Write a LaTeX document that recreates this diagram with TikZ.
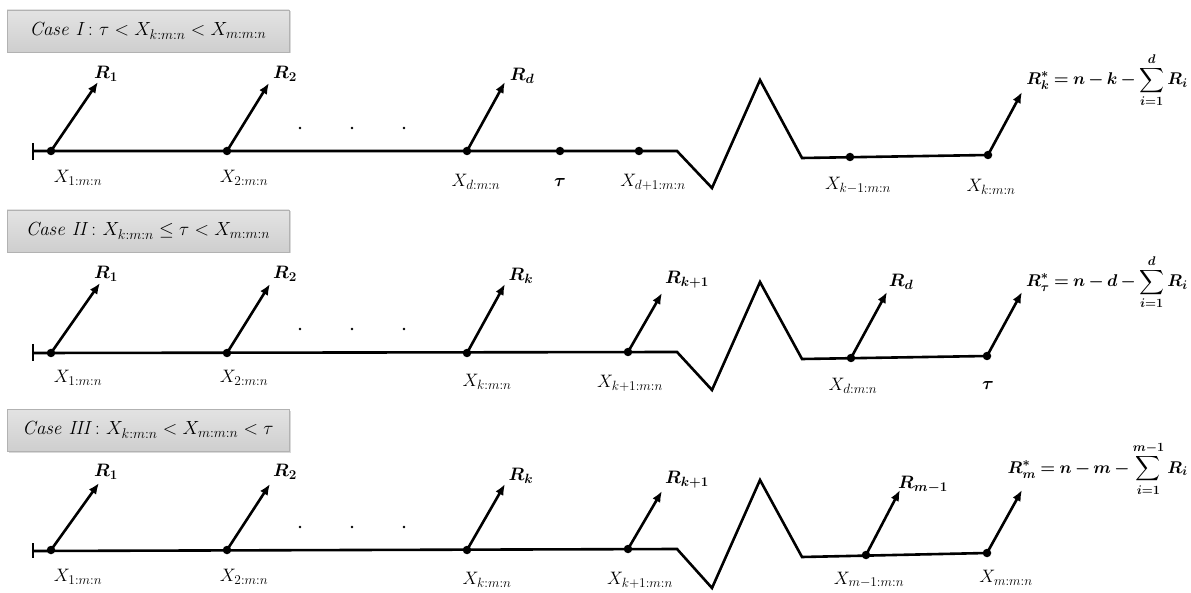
\RequirePackage{fix-cm}
\documentclass[tikz,border=0pt]{standalone}
\usepackage{amsmath}
\usetikzlibrary{arrows.meta,shadows}

% larger script sizes for the label fonts
\DeclareMathSizes{17}{17}{12.6}{9.5}
\DeclareMathSizes{18}{18}{13.4}{10}
\DeclareMathSizes{19}{19}{14}{10.5}

\tikzset{
  axisline/.style={line width=2.6pt, line join=miter},
  tickmark/.style={line width=2.4pt},
  dot/.style={circle, fill=black, inner sep=0pt, minimum size=8.5pt},
  rarrow/.style={line width=2.6pt, -{Latex[length=11pt,width=9pt]}},
  caselabel/.style={draw=gray!60, top color=gray!22, bottom color=gray!38,
    minimum width=282pt, minimum height=42pt, inner sep=0pt,
    font=\fontsize{19}{22}\selectfont,
    drop shadow={opacity=0.3, shadow xshift=1.5pt, shadow yshift=-1.5pt}},
  xlab/.style={font=\fontsize{18}{20}\selectfont, inner sep=0pt},
  rlab/.style={font=\fontsize{18}{20}\selectfont\boldmath, inner sep=0pt},
  formula/.style={font=\fontsize{17}{19}\selectfont\boldmath, inner sep=0pt, anchor=east},
  gapdot/.style={circle, fill=black, inner sep=0pt, minimum size=2.8pt},
}
\newcommand{\tightops}{\thickmuskip=4mu plus 2mu\medmuskip=3mu plus 1mu}

\begin{document}
\begin{tikzpicture}[x=1pt, y=-1pt]
\useasboundingbox (0,0) rectangle (1191,593);

% ---------------- Case I ----------------
\node[caselabel] (case1) at (148,31) {$\mathit{Case\ I}\colon \tau < X_{k:m:n} < X_{m:m:n}$};
\coordinate (s1) at (33,151);
\draw[tickmark] (33,143) -- (33,160);
\node[dot] (a1) at (51,151) {};
\node[dot] (a2) at (227,151) {};
\node[dot] (ad) at (467,151) {};
\node[dot] (at) at (560,151) {};
\node[dot] (ad1) at (639,151) {};
\node[dot] (akm) at (850,157) {};
\node[dot] (ak) at (988,155) {};
\draw[axisline] (s1) -- (677,151) -- (712,188) -- (760,80) -- (802,158) -- (ak.center);
\coordinate (ta1) at (98,82);
\coordinate (ta2) at (269,83);
\coordinate (tad) at (505,82);
\coordinate (tak) at (1022,92);
\draw[rarrow] (a1.center) -- (ta1);
\draw[rarrow] (a2.center) -- (ta2);
\draw[rarrow] (ad.center) -- (tad);
\draw[rarrow] (ak.center) -- (tak);
\node[rlab] (ra1) at (106,74) {$R_1$};
\node[rlab] (ra2) at (285,74) {$R_2$};
\node[rlab] (rad) at (522,76) {$R_d$};
\node[formula] (fa) at (1188,80) {$\tightops\displaystyle R_k^{*} = n - k - \sum_{i=1}^{d} R_i$};
\node[gapdot] (ga1) at (300,128) {};
\node[gapdot] (ga2) at (352,128) {};
\node[gapdot] (ga3) at (404,128) {};
\node[xlab] (xa1) at (78,178) {$X_{1:m:n}$};
\node[xlab] (xa2) at (244,178) {$X_{2:m:n}$};
\node[xlab] (xad) at (476,182) {$X_{d:m:n}$};
\node[rlab] (xat) at (560,183) {$\tau$};
\node[xlab] (xad1) at (653,182) {$X_{d+1:m:n}$};
\node[xlab] (xakm) at (858,185) {$X_{k-1:m:n}$};
\node[xlab] (xak) at (991,187) {$X_{k:m:n}$};

% ---------------- Case II ----------------
\node[caselabel] (case2) at (148,231) {$\mathit{Case\ II}\colon X_{k:m:n} \le \tau < X_{m:m:n}$};
\coordinate (s2) at (33,353);
\draw[tickmark] (33,344) -- (33,361);
\node[dot] (b1) at (51,353) {};
\node[dot] (b2) at (227,353) {};
\node[dot] (bk) at (467,353) {};
\node[dot] (bk1) at (628,352) {};
\node[dot] (bd) at (851,358) {};
\node[dot] (bt) at (987,356) {};
\draw[axisline] (s2) -- (677,352) -- (712,390) -- (760,282) -- (802,359) -- (bt.center);
\coordinate (tb1) at (100,283);
\coordinate (tb2) at (270,284);
\coordinate (tbk) at (505,284);
\coordinate (tbk1) at (662,293);
\coordinate (tbd) at (887,292);
\coordinate (tbt) at (1022,292);
\draw[rarrow] (b1.center) -- (tb1);
\draw[rarrow] (b2.center) -- (tb2);
\draw[rarrow] (bk.center) -- (tbk);
\draw[rarrow] (bk1.center) -- (tbk1);
\draw[rarrow] (bd.center) -- (tbd);
\draw[rarrow] (bt.center) -- (tbt);
\node[rlab] (rb1) at (106,274) {$R_1$};
\node[rlab] (rb2) at (285,274) {$R_2$};
\node[rlab] (rbk) at (521,276) {$R_k$};
\node[rlab] (rbk1) at (687,280) {$R_{k+1}$};
\node[rlab] (rbd) at (901,282) {$R_d$};
\node[formula] (fb) at (1188,282) {$\tightops\displaystyle R_\tau^{*} = n - d - \sum_{i=1}^{d} R_i$};
\node[gapdot] (gb1) at (300,329) {};
\node[gapdot] (gb2) at (352,329) {};
\node[gapdot] (gb3) at (404,329) {};
\node[xlab] (xb1) at (78,378) {$X_{1:m:n}$};
\node[xlab] (xb2) at (244,378) {$X_{2:m:n}$};
\node[xlab] (xbk) at (487,382) {$X_{k:m:n}$};
\node[xlab] (xbk1) at (630,383) {$X_{k+1:m:n}$};
\node[xlab] (xbd) at (853,386) {$X_{d:m:n}$};
\node[rlab] (xbt) at (988,385) {$\tau$};

% ---------------- Case III ----------------
\node[caselabel] (case3) at (148,430) {$\mathit{Case\ III}\colon X_{k:m:n} < X_{m:m:n} < \tau$};
\coordinate (s3) at (33,551);
\draw[tickmark] (33,543) -- (33,558);
\node[dot] (c1) at (51,550) {};
\node[dot] (c2) at (227,550) {};
\node[dot] (ck) at (467,550) {};
\node[dot] (ck1) at (628,549) {};
\node[dot] (cm1) at (866,555) {};
\node[dot] (cm) at (987,553) {};
\draw[axisline] (s3) -- (677,549) -- (712,588) -- (760,480) -- (802,557) -- (cm.center);
\coordinate (tc1) at (99,483);
\coordinate (tc2) at (270,484);
\coordinate (tck) at (505,484);
\coordinate (tck1) at (662,491);
\coordinate (tcm1) at (900,490);
\coordinate (tcm) at (1022,490);
\draw[rarrow] (c1.center) -- (tc1);
\draw[rarrow] (c2.center) -- (tc2);
\draw[rarrow] (ck.center) -- (tck);
\draw[rarrow] (ck1.center) -- (tck1);
\draw[rarrow] (cm1.center) -- (tcm1);
\draw[rarrow] (cm.center) -- (tcm);
\node[rlab] (rc1) at (106,472) {$R_1$};
\node[rlab] (rc2) at (285,472) {$R_2$};
\node[rlab] (rck) at (521,476) {$R_k$};
\node[rlab] (rck1) at (687,480) {$R_{k+1}$};
\node[rlab] (rcm1) at (923,485) {$R_{m-1}$};
\node[formula] (fc) at (1188,469) {$\tightops\displaystyle R_m^{*} = n - m - \sum_{i=1}^{m-1} R_i$};
\node[gapdot] (gc1) at (300,527) {};
\node[gapdot] (gc2) at (352,527) {};
\node[gapdot] (gc3) at (404,527) {};
\node[xlab] (xc1) at (78,577) {$X_{1:m:n}$};
\node[xlab] (xc2) at (244,577) {$X_{2:m:n}$};
\node[xlab] (xck) at (487,580) {$X_{k:m:n}$};
\node[xlab] (xck1) at (640,580) {$X_{k+1:m:n}$};
\node[xlab] (xcm1) at (869,580) {$X_{m-1:m:n}$};
\node[xlab] (xcm) at (1006,578) {$X_{m:m:n}$};
\end{tikzpicture}
\end{document}
